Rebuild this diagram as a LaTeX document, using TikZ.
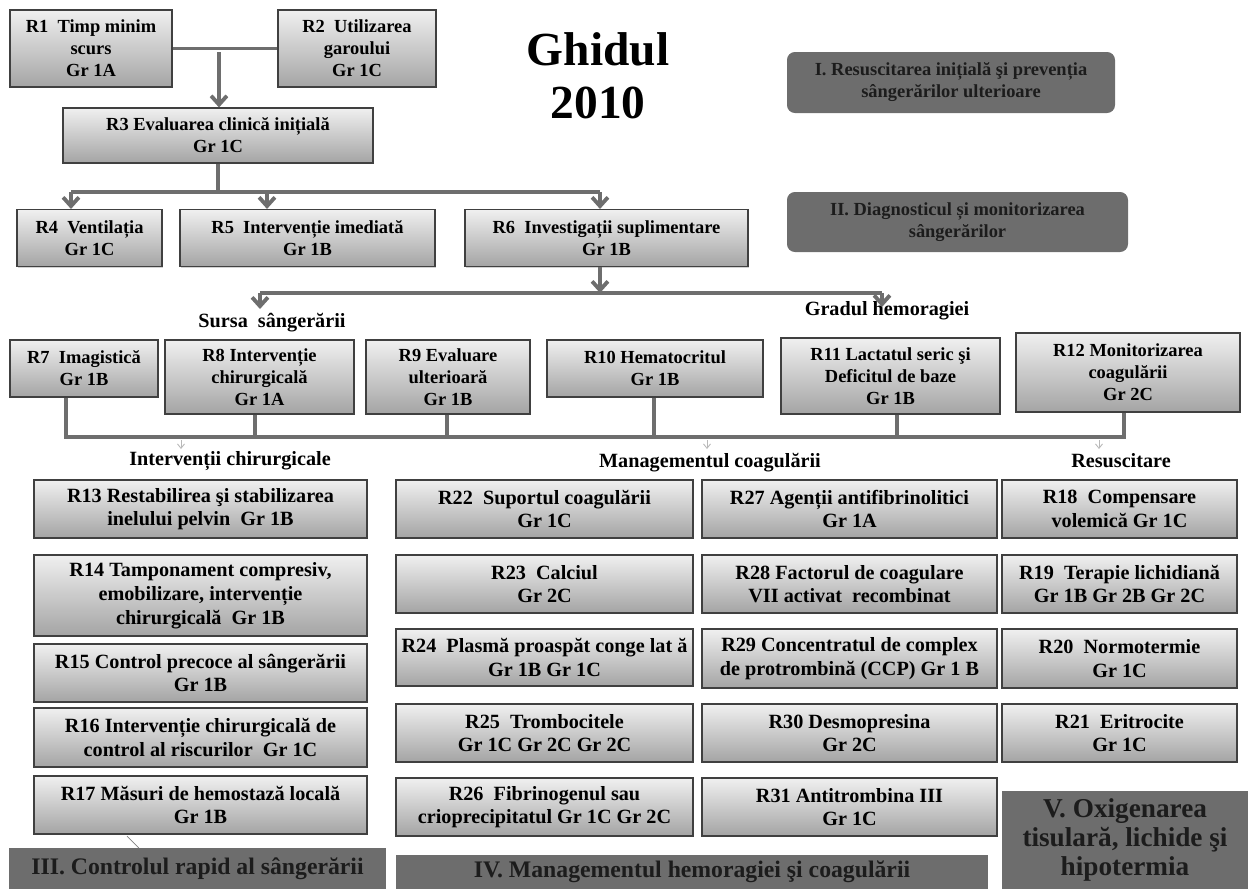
\documentclass[tikz,border=0pt]{standalone}
\usepackage{fontspec}
\setmainfont{Liberation Serif}
\usetikzlibrary{positioning,arrows.meta,shadows}
\definecolor{flowgray}{HTML}{6E6E6E}
\definecolor{boxtop}{HTML}{F0F0F0}
\definecolor{boxbottom}{HTML}{A4A4A4}
\definecolor{bandgray}{HTML}{6D6D6D}
\definecolor{bandtext}{HTML}{1C1C1C}
\tikzstyle{rbox}=[draw=black!75, line width=0.6pt, top color=boxtop, bottom color=boxbottom, align=center, inner sep=1pt, drop shadow={shadow xshift=0.6pt, shadow yshift=-0.6pt, fill=black!35}, font=\fontsize{10.5}{12.5}\selectfont\bfseries]
\tikzstyle{rboxlow}=[rbox, font=\fontsize{11.5}{13.5}\selectfont\bfseries]
\tikzstyle{band}=[fill=bandgray, text=bandtext, align=center, inner sep=1pt, font=\fontsize{10.5}{12.5}\selectfont\bfseries]
\tikzstyle{flow}=[draw=flowgray, line width=2.2pt]
\tikzstyle{flowarrow}=[flow, -{Straight Barb[length=5pt,width=9pt]}]
\tikzstyle{thinarrow}=[draw=gray!55, line width=0.5pt, -{Straight Barb[length=2.5pt,width=4pt]}]
\tikzstyle{grouplabel}=[font=\fontsize{11.5}{13}\selectfont\bfseries]
\tikzset{boxsize/.style 2 args={minimum width=#1*0.02cm, minimum height=#2*0.02cm}}

\begin{document}
\begin{tikzpicture}[x=0.02cm, y=-0.02cm]
	\useasboundingbox (0,0) rectangle (1248,889);
	\node[font=\fontsize{27}{30}\selectfont\bfseries, align=center] (title) at (598,76) {Ghidul\\2010};
	% first steps
	\node[rbox, boxsize={162}{77}] (r1) at (91,48.5) {R1\ \ Timp minim\\scurs\\Gr 1A};
	\node[rbox, boxsize={158}{77}] (r2) at (357,48.5) {R2\ \ Utilizarea\\garoului\\Gr 1C};
	\node[rbox, boxsize={310}{55}] (r3) at (218,135.5) {R3 Evaluarea clinică inițială\\Gr 1C};
	\node[rbox, boxsize={145}{57}] (r4) at (89.5,238) {R4\ \ Ventilația\\Gr 1C};
	\node[rbox, boxsize={255}{57}] (r5) at (307.5,238) {R5\ \ Intervenție imediată\\Gr 1B};
	\node[rbox, boxsize={283}{57}] (r6) at (606.5,238) {R6\ \ Investigații suplimentare\\Gr 1B};
	\node[band, rounded corners=4.5pt, boxsize={328}{61}] (bandI) at (951,82.5) {I. Resuscitarea inițială şi prevenția\\sângerărilor ulterioare};
	\node[band, rounded corners=4.5pt, boxsize={341}{60}] (bandII) at (957.5,222) {II. Diagnosticul și monitorizarea\\sângerărilor};
	\draw[flow] (r1.east) -- (r2.west);
	\coordinate (c12) at (219,52);
	\draw[flowarrow] (c12) -- (c12 |- r3.north);
	\coordinate (c3) at (218,192);
	\coordinate (a4) at (71,192);
	\coordinate (a5) at (267,192);
	\coordinate (a6) at (600,192);
	\draw[flow] (r3.south) -- (c3);
	\draw[flow] (a4) -- (a6);
	\foreach \n in {4,5,6}
		\draw[flowarrow] (a\n) -- (a\n |- r\n.north);
	% diagnosis
	\node[grouplabel] (sursa) at (272,323) {Sursa\ \ sângerării};
	\node[grouplabel] (gradul) at (887,311) {Gradul hemoragiei};
	\coordinate (m6) at (600,293);
	\coordinate (m7) at (260,293);
	\coordinate (m11) at (882,293);
	\coordinate (m7e) at (260,309);
	\coordinate (m11e) at (882,307);
	\draw[flowarrow] (m6 |- r6.south) -- (m6);
	\draw[flow] (m7) -- (m11);
	\draw[flowarrow] (m7) -- (m7e);
	\draw[flowarrow] (m11) -- (m11e);
	\node[rbox, boxsize={148}{57}] (r7) at (84,368.5) {R7\ \ Imagistică\\Gr 1B};
	\node[rbox, boxsize={189}{74}] (r8) at (259.5,377) {R8 Intervenție\\chirurgicală\\Gr 1A};
	\node[rbox, boxsize={164}{74}] (r9) at (448,377) {R9 Evaluare\\ulterioară\\Gr 1B};
	\node[rbox, boxsize={216}{57}] (r10) at (655,368.5) {R10 Hematocritul\\Gr 1B};
	\node[rbox, boxsize={219}{76}] (r11) at (890.5,376) {R11 Lactatul seric şi\\Deficitul de baze\\Gr 1B};
	\node[rbox, boxsize={224}{79}] (r12) at (1128,372.5) {R12 Monitorizarea\\coagulării\\Gr 2C};
	\coordinate (b7) at (66,437);
	\coordinate (b12) at (1124,437);
	\draw[flow] (b7 |- r7.south) -- (b7) -- (b12) -- (b12 |- r12.south);
	\foreach \n/\x in {8/255, 9/447, 10/654, 11/897} {
		\coordinate (b\n) at (\x,437);
		\draw[flow] (b\n |- r\n.south) -- (b\n);
	}
	\foreach \x/\nm in {181/ic, 707/mc, 1099/rs} {
		\coordinate (t\nm) at (\x,440);
		\coordinate (e\nm) at (\x,449);
		\draw[thinarrow] (t\nm) -- (e\nm);
	}
	\node[grouplabel] (interv) at (230,461) {Intervenții chirurgicale};
	\node[grouplabel] (manag) at (710,463) {Managementul coagulării};
	\node[grouplabel] (resusc) at (1121,461) {Resuscitare};
	% bleeding control
	\node[rboxlow, boxsize={333}{58}] (r13) at (200.5,509) {R13 Restabilirea şi stabilizarea\\inelului pelvin\ \ Gr 1B};
	\node[rboxlow, boxsize={333}{81}] (r14) at (200.5,595.5) {R14 Tamponament compresiv,\\emobilizare, intervenție\\chirurgicală\ \ Gr 1B};
	\node[rboxlow, boxsize={333}{58}] (r15) at (200.5,673) {R15 Control precoce al sângerării\\Gr 1B};
	\node[rboxlow, boxsize={333}{59}] (r16) at (200.5,737.5) {R16 Intervenție chirurgicală de\\control al riscurilor\ \ Gr 1C};
	\node[rboxlow, boxsize={333}{58}] (r17) at (200.5,805) {R17 Măsuri de hemostază locală\\Gr 1B};
	% coagulation
	\node[rboxlow, boxsize={297}{58}] (r22) at (544.5,509) {R22\ \ Suportul coagulării\\Gr 1C};
	\node[rboxlow, boxsize={297}{58}] (r23) at (544.5,584) {R23\ \ Calciul\\Gr 2C};
	\node[rboxlow, boxsize={297}{57}] (r24) at (544.5,657.5) {R24\ \ Plasmă proaspăt conge lat ă\\Gr 1B Gr 1C};
	\node[rboxlow, boxsize={297}{58}] (r25) at (544.5,733) {R25\ \ Trombocitele\\Gr 1C Gr 2C Gr 2C};
	\node[rboxlow, boxsize={297}{58}] (r26) at (544.5,807) {R26\ \ Fibrinogenul sau\\crioprecipitatul Gr 1C Gr 2C};
	\node[rboxlow, boxsize={295}{58}] (r27) at (849.5,509) {R27 Agenții antifibrinolitici\\Gr 1A};
	\node[rboxlow, boxsize={295}{58}] (r28) at (849.5,584) {R28 Factorul de coagulare\\VII activat\ \ recombinat};
	\node[rboxlow, boxsize={295}{59}] (r29) at (849.5,658.5) {R29 Concentratul de complex\\de protrombină (CCP) Gr 1 B};
	\node[rboxlow, boxsize={295}{58}] (r30) at (849.5,733) {R30 Desmopresina\\Gr 2C};
	\node[rboxlow, boxsize={295}{58}] (r31) at (849.5,807) {R31 Antitrombina III\\Gr 1C};
	% resuscitation
	\node[rboxlow, boxsize={235}{58}] (r18) at (1119.5,509) {R18\ \ Compensare\\volemică Gr 1C};
	\node[rboxlow, boxsize={235}{58}] (r19) at (1119.5,584) {R19\ \ Terapie lichidiană\\Gr 1B Gr 2B Gr 2C};
	\node[rboxlow, boxsize={235}{59}] (r20) at (1119.5,658.5) {R20\ \ Normotermie\\Gr 1C};
	\node[rboxlow, boxsize={235}{58}] (r21) at (1119.5,733) {R21\ \ Eritrocite\\Gr 1C};
	% section bands
	\node[band, font=\fontsize{13.5}{15}\selectfont\bfseries, boxsize={377}{41}] (bandIII) at (197.5,868.5) {III. Controlul rapid al sângerării};
	\node[band, font=\fontsize{13.5}{15}\selectfont\bfseries, boxsize={592}{34}] (bandIV) at (692,872) {IV. Managementul hemoragiei şi coagulării};
	\node[band, font=\fontsize{15.5}{16.5}\selectfont\bfseries, boxsize={246}{99}] (bandV) at (1125,840) {V. Oxigenarea\\tisulară, lichide şi\\hipotermia};
	\coordinate (r17tail) at (127,836);
	\coordinate (bandIIIhead) at (139,848);
	\draw[draw=gray, line width=0.4pt] (r17tail) -- (bandIIIhead);
\end{tikzpicture}
\end{document}
